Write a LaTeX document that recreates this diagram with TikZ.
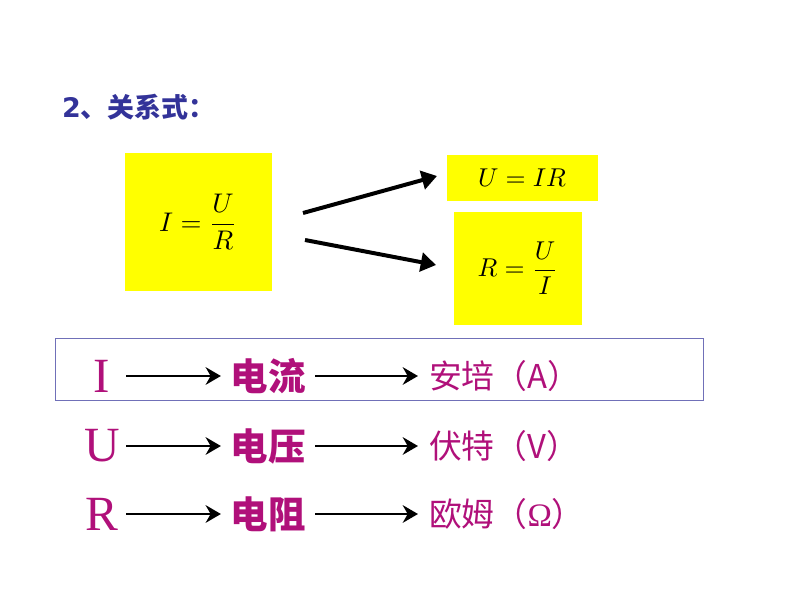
\documentclass[tikz,border=0pt]{standalone}
\usepackage{amsmath}
\usepackage{graphicx}
\usepackage{fontspec}
\setmainfont{Liberation Serif}
\newfontfamily\cjk{Noto Sans CJK SC}
\newfontfamily\titlefont{DejaVu Sans}
\usetikzlibrary{positioning,arrows.meta}
\definecolor{mag}{HTML}{B0107A}
\definecolor{navy}{HTML}{333399}
\definecolor{hl}{HTML}{FFFF00}
\tikzset{
  bigarrow/.style={line width=3.4pt,-{Triangle[length=13pt,width=16pt]}},
  rowarrow/.style={line width=2.4pt,-{Stealth[length=13pt,width=15pt]}},
  sym/.style={text=mag,font=\fontsize{42}{42}\selectfont,anchor=center},
  qty/.style={text=mag,font=\cjk\bfseries\fontsize{32}{32}\selectfont,anchor=center,inner sep=8pt},
  unit/.style={text=mag,font=\cjk\fontsize{28}{28}\selectfont,anchor=west},
}
\begin{document}
\begin{tikzpicture}[x=0.03cm,y=-0.03cm]
\useasboundingbox (0,0) rectangle (794,596);
% title
\node[anchor=west,text=navy,font=\fontsize{23}{23}\selectfont] (title) at (58,107)
  {\titlefont\bfseries 2\cjk 、关系式：};
% formulas
\fill[hl] (125,153) rectangle (272,291);
\node (ohm) at (198,222) {\scalebox{2.3}{$I=\dfrac{U}{R}$}};
\fill[hl] (447,155) rectangle (598,201);
\node (uir) at (522,178) {\scalebox{2.2}{$U=IR$}};
\fill[hl] (454,212) rectangle (582,325);
\node (rui) at (518,268) {\scalebox{2.2}{$R=\dfrac{U}{I}$}};
\coordinate (s1) at (303,213);
\coordinate (e1) at (437,176);
\coordinate (s2) at (305,240);
\coordinate (e2) at (436,265);
\draw[bigarrow] (s1) -- (e1);
\draw[bigarrow] (s2) -- (e2);
% table
\draw[navy!70,line width=0.6pt] (55,338) rectangle (703,400);
\foreach \y/\s/\q/\u/\n in {376/I/电流/安培（A）/a,446/U/电压/伏特（V）/b,514/R/电阻/欧姆（{\rmfamily Ω}）/c} {
  \node[sym] (s\n) at (102,\y) {\s};
  \node[qty] (q\n) at (268,\y) {\q};
  \node[unit] (u\n) at (425,\y) {\u};
  \draw[rowarrow] (126,\y) -- (q\n.west);
  \draw[rowarrow] (q\n.east) -- ([xshift=-6pt]u\n.west);
}
\end{tikzpicture}
\end{document}
